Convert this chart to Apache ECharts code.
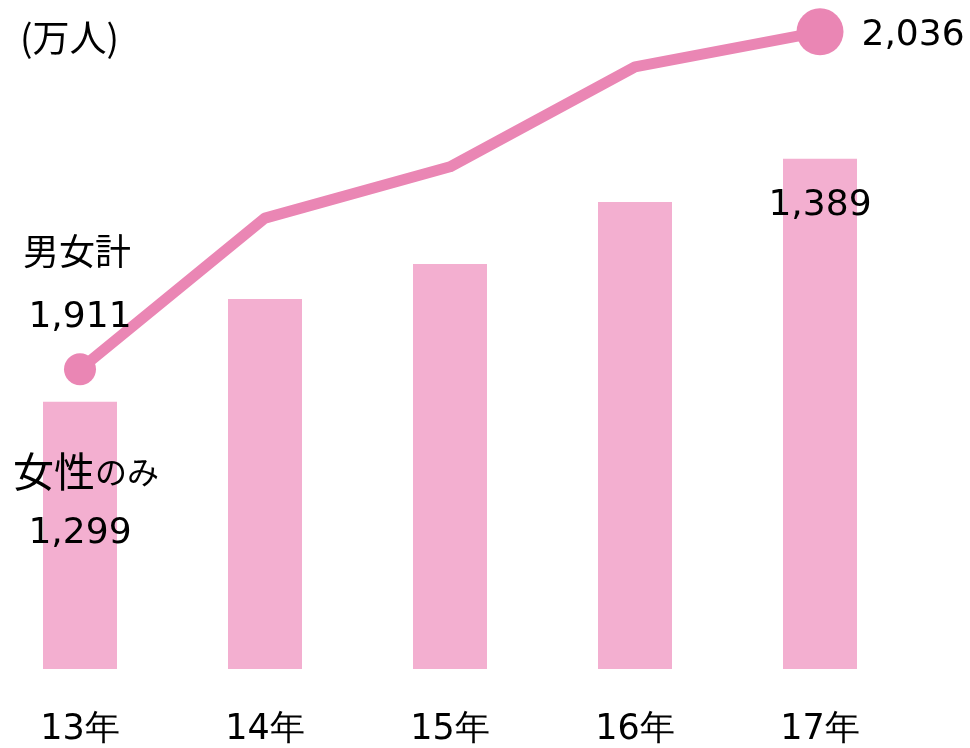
<!DOCTYPE html>
<html>
<head>
<meta charset="utf-8">
<script src="https://cdn.jsdelivr.net/npm/echarts@6/dist/echarts.min.js"></script>
<style>
  html, body { margin: 0; padding: 0; background: #ffffff; }
  #chart { width: 970px; height: 748px; }
</style>
</head>
<body>
<div id="chart"></div>
<script>
// 年ごとの人数（万人）
const categories = ['13年', '14年', '15年', '16年', '17年'];
const womenOnly = [1299, 1337, 1350, 1373, 1389];   // 女性のみ（棒）
const bothSexes = [1911, 1967, 1986, 2023, 2036];   // 男女計（折れ線）

const BAR_COLOR = '#F3AFD0';
const LINE_COLOR = '#EA86B4';
const TEXT_COLOR = '#000000';
const NUM_FONT = '"DejaVu Sans", Verdana, sans-serif';
const JP_FONT = '"Noto Sans CJK JP", sans-serif';
const fmt = v => v.toLocaleString('en-US');
const last = categories.length - 1;

const chart = echarts.init(document.getElementById('chart'), null, { renderer: 'canvas' });

chart.setOption({
  animation: false,
  backgroundColor: '#ffffff',
  // 区分は両端の目盛り上に置く（boundaryGap: false）
  grid: { left: 80, right: 150, top: 21, bottom: 79, containLabel: false },
  xAxis: {
    type: 'category',
    data: categories,
    boundaryGap: false,
    axisLine: { show: false },
    axisTick: { show: false },
    splitLine: { show: false },
    axisLabel: {
      margin: 43,
      fontSize: 35,
      color: TEXT_COLOR,
      fontFamily: NUM_FONT
    }
  },
  yAxis: [
    { type: 'value', min: 1200, max: 1440, show: false, splitLine: { show: false } },
    { type: 'value', min: 1800, max: 2040, show: false, splitLine: { show: false } }
  ],
  graphic: [
    {
      type: 'text',
      left: 20,
      top: 19,
      style: {
        text: '(万人)',
        font: '37px "Noto Sans CJK JP", sans-serif',
        fill: TEXT_COLOR
      }
    }
  ],
  series: [
    {
      type: 'bar',
      yAxisIndex: 0,
      barWidth: 74,
      itemStyle: { color: BAR_COLOR },
      data: womenOnly.map((v, i) => {
        if (i === 0) {
          return {
            value: v,
            label: {
              show: true,
              position: 'insideTop',
              distance: 39,
              offset: [6, 0],
              formatter: p => '{a|女性}{b|のみ}\n{n|' + fmt(p.value) + '}',
              rich: {
                a: { fontSize: 41, fontFamily: JP_FONT, color: TEXT_COLOR, lineHeight: 62 },
                b: { fontSize: 32, fontFamily: JP_FONT, color: TEXT_COLOR, lineHeight: 62 },
                n: { fontSize: 36, fontFamily: NUM_FONT, color: TEXT_COLOR, lineHeight: 62, padding: [0, 12, 0, 0] }
              }
            }
          };
        }
        if (i === last) {
          return {
            value: v,
            label: {
              show: true,
              position: 'insideTop',
              distance: 29,
              formatter: p => fmt(p.value),
              fontSize: 36,
              fontFamily: NUM_FONT,
              color: TEXT_COLOR
            }
          };
        }
        return v;
      })
    },
    {
      type: 'line',
      yAxisIndex: 1,
      z: 3,
      symbol: 'circle',
      symbolSize: (v, p) => (p.dataIndex === 0 ? 32 : (p.dataIndex === last ? 47 : 0)),
      showAllSymbol: true,
      lineStyle: { color: LINE_COLOR, width: 11, join: 'round' },
      itemStyle: { color: LINE_COLOR },
      data: bothSexes.map((v, i) => {
        if (i === 0) {
          return {
            value: v,
            label: {
              show: true,
              position: 'top',
              distance: 3,
              formatter: p => '{a|男女計}\n{n|' + fmt(p.value) + '}',
              rich: {
                a: { fontSize: 36, fontFamily: JP_FONT, color: TEXT_COLOR, lineHeight: 66, padding: [0, 6, 0, 0] },
                n: { fontSize: 36, fontFamily: NUM_FONT, color: TEXT_COLOR, lineHeight: 66 }
              }
            }
          };
        }
        if (i === last) {
          return {
            value: v,
            label: {
              show: true,
              position: 'right',
              distance: 18,
              offset: [0, 4],
              formatter: p => fmt(p.value),
              fontSize: 36,
              fontFamily: NUM_FONT,
              color: TEXT_COLOR
            }
          };
        }
        return v;
      })
    }
  ]
});
</script>
</body>
</html>
